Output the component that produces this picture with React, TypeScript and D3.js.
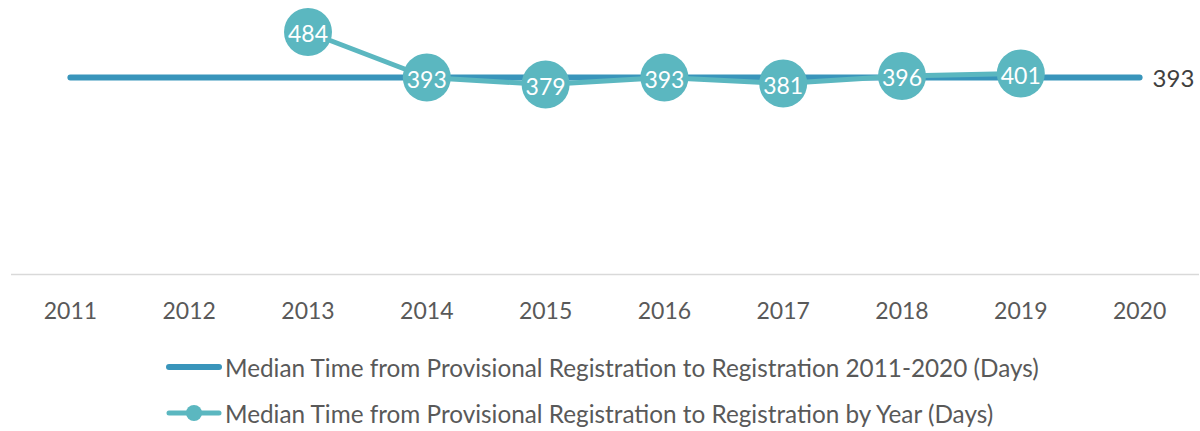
import React, { useEffect } from "react";
import * as d3 from "d3";

const years = ["2011", "2012", "2013", "2014", "2015", "2016", "2017", "2018", "2019", "2020"];
const medianValue = 393;
const yearYears = ["2013", "2014", "2015", "2016", "2017", "2018", "2019"];
const yearValues = [484, 393, 379, 393, 381, 396, 401];
const legendLabels = [
  "Median Time from Provisional Registration to Registration 2011-2020 (Days)",
  "Median Time from Provisional Registration to Registration by Year (Days)",
];

const W = 1200;
const H = 431;
const FONT = "Lato, 'Open Sans', sans-serif";
const DARK = "#3995BB";
const TEAL = "#5BB7C0";

export default function App() {
  useEffect(() => {
    document.body.style.margin = "0";
  }, []);

  const x = d3.scaleBand<string>().domain(years).range([11, 1199]).padding(0);
  const cx = (d: string) => (x(d) as number) + x.bandwidth() / 2;
  const y = d3.scaleLinear().domain([0, 500]).range([274, 24]);

  const medianPts: [number, number][] = years.map((d) => [cx(d), y(medianValue)]);
  const yearPts: [number, number][] = yearYears.map((d, i) => [cx(d), y(yearValues[i])]);
  const line = d3.line();

  return (
    <svg width={W} height={H} style={{ display: "block", background: "#fff" }}>
      <line x1={11} x2={1199} y1={274.5} y2={274.5} stroke="#d9d9d9" strokeWidth={1.5} />
      {years.map((d) => (
        <text key={d} x={cx(d)} y={310} textAnchor="middle" dominantBaseline="central"
          fontFamily={FONT} fontSize={23} fill="#595959">{d}</text>
      ))}
      <path d={line(medianPts) || ""} fill="none" stroke={DARK} strokeWidth={6} strokeLinecap="round" />
      <text x={cx("2020") + 13} y={y(medianValue)} dominantBaseline="central"
        fontFamily={FONT} fontSize={24} fill="#404040">{medianValue}</text>
      <path d={line(yearPts) || ""} fill="none" stroke={TEAL} strokeWidth={5} strokeLinejoin="round" />
      {yearPts.map((p, i) => (
        <g key={i}>
          <circle cx={p[0]} cy={p[1]} r={24} fill={TEAL} />
          <text x={p[0]} y={p[1] + 1} textAnchor="middle" dominantBaseline="central"
            fontFamily={FONT} fontSize={23} fill="#fff">{yearValues[i]}</text>
        </g>
      ))}
      <g>
        <line x1={169} x2={219} y1={367} y2={367} stroke={DARK} strokeWidth={6} strokeLinecap="round" />
        <text x={225} y={367} dominantBaseline="central" fontFamily={FONT} fontSize={24.3} fill="#595959">{legendLabels[0]}</text>
        <line x1={169} x2={219} y1={413} y2={413} stroke={TEAL} strokeWidth={5} strokeLinecap="round" />
        <circle cx={194} cy={413} r={8} fill={TEAL} />
        <text x={225} y={413} dominantBaseline="central" fontFamily={FONT} fontSize={24.3} fill="#595959">{legendLabels[1]}</text>
      </g>
    </svg>
  );
}
